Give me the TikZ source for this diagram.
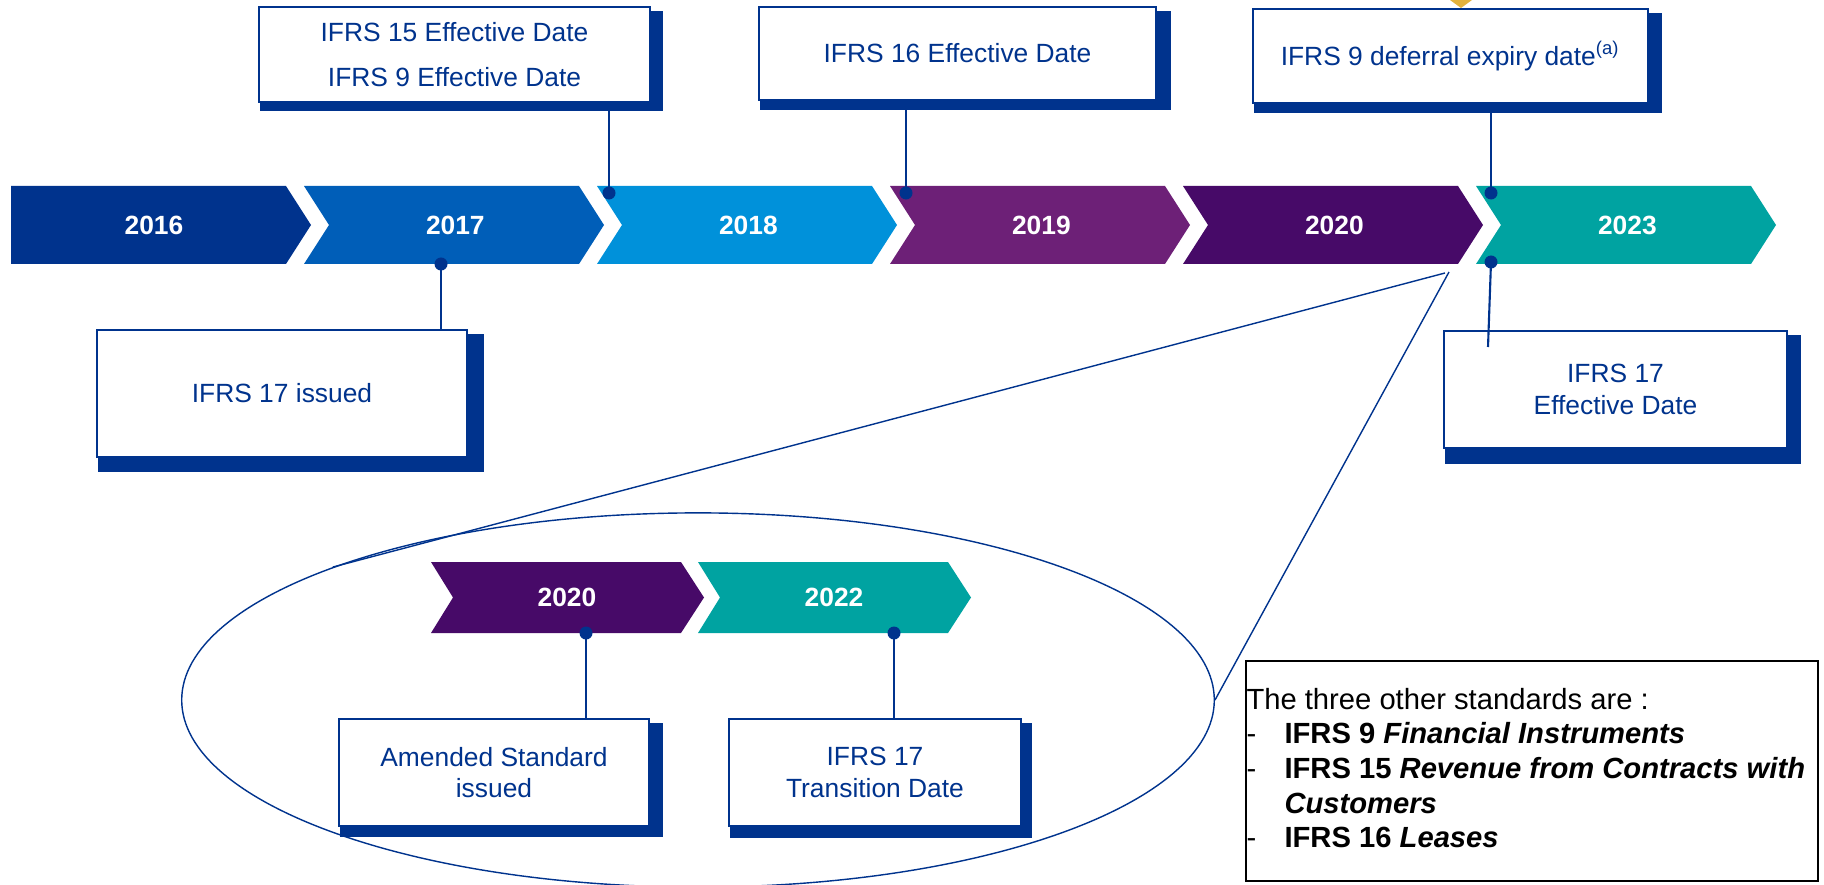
\documentclass[tikz,border=0pt]{standalone}
\usepackage{fontspec}
\setmainfont{Liberation Sans}
\usetikzlibrary{calc, shapes.geometric}
\pgfdeclarelayer{back}
\pgfsetlayers{back,main}

\definecolor{navy}{RGB}{0,51,141}
\definecolor{c16}{RGB}{0,51,141}
\definecolor{c17}{RGB}{0,94,184}
\definecolor{c18}{RGB}{0,145,218}
\definecolor{c19}{RGB}{109,32,119}
\definecolor{c20}{RGB}{71,10,104}
\definecolor{c23}{RGB}{0,163,161}
\definecolor{gold}{RGB}{227,178,60}

\tikzset{
  yearlbl/.style={text=white, font=\fontsize{7.5}{9}\selectfont\bfseries},
  infobox/.style={draw=navy, line width=0.4pt, fill=white, text=navy, align=center, font=\fontsize{7.5}{9}\selectfont, inner sep=0pt},
  dot/.style={circle, fill=navy, inner sep=0pt, minimum size=0.13cm},
  stem/.style={navy, line width=0.6pt},
  lensline/.style={navy, line width=0.4pt}
}

\begin{document}
\begin{tikzpicture}[x=0.01cm, y=-0.01cm]
\useasboundingbox (0,0) rectangle (1824,885);

\fill[gold] (1450,0) -- (1472,0) -- (1461,8) -- cycle;

\foreach \yr/\col [count=\i from 0] in {2016/c16,2017/c17,2018/c18,2019/c19,2020/c20,2023/c23}{
  \pgfmathsetmacro\L{11+293*\i}
  \pgfmathsetmacro\nd{\i==0 ? 0 : 25}
  \fill[\col] (\L,186) -- ++(275,0) -- ++(25,39) -- ++(-25,39) -- ++(-275,0) -- ++(\nd,-39) -- cycle;
  \node[yearlbl] (y\yr) at (\L+143+\nd/3,225) {\yr};
}

\foreach \yr/\col [count=\i from 0] in {2020/c20,2022/c23}{
  \pgfmathsetmacro\L{431+267*\i}
  \fill[\col] (\L,562) -- ++(250,0) -- ++(23,35.5) -- ++(-23,35.5) -- ++(-250,0) -- ++(22,-35.5) -- cycle;
  \node[yearlbl] (z\yr) at (\L+136,597.5) {\yr};
}

\node[infobox, minimum width=3.91cm, minimum height=0.95cm] (bA) at (454.5,54.5) {IFRS 15 Effective Date\\[0.14cm]IFRS 9 Effective Date};
\node[infobox, minimum width=3.97cm, minimum height=0.93cm] (bB) at (957.5,53.5) {IFRS 16 Effective Date};
\node[infobox, minimum width=3.95cm, minimum height=0.94cm] (bC) at (1450.5,56) {IFRS 9 deferral expiry date\textsuperscript{(a)}};
\node[infobox, minimum width=3.70cm, minimum height=1.27cm] (bD) at (282,393.5) {IFRS 17 issued};
\node[infobox, minimum width=3.43cm, minimum height=1.17cm] (bE) at (1615.5,389.5) {IFRS 17\\Effective Date};
\node[infobox, minimum width=3.10cm, minimum height=1.07cm] (bF) at (494,772.5) {Amended Standard\\issued};
\node[infobox, minimum width=2.92cm, minimum height=1.07cm] (bG) at (875,772.5) {IFRS 17\\Transition Date};

\node[draw=navy, line width=0.4pt, ellipse, minimum width=10.32cm, minimum height=3.74cm, inner sep=0pt] (lens) at (698,700) {};

\begin{pgfonlayer}{back}
\foreach \b/\dx/\dy in {bA/12/8,bB/14/9,bC/13/9,bD/16/14,bE/13/15,bF/13/10,bG/10/11}
  \fill[navy] ($(\b.north west)+(2,5)$) rectangle ($(\b.south east)+(\dx,\dy)$);
\end{pgfonlayer}

\node[dot] (dA) at (609,193) {};
\node[dot] (dB) at (906,193) {};
\node[dot] (dC) at (1491,193) {};
\node[dot] (dD) at (441,264) {};
\node[dot] (dE) at (1491,262) {};
\node[dot] (dF) at (586,633) {};
\node[dot] (dG) at (894,633) {};
\coordinate (eEnd) at (1488,347);

\draw[stem] (dA.center) -- (dA |- bA.south);
\draw[stem] (dB.center) -- (dB |- bB.south);
\draw[stem] (dC.center) -- (dC |- bC.south);
\draw[stem] (dD.center) -- (dD |- bD.north);
\draw[stem] (dE.center) -- (eEnd);
\draw[stem] (dF.center) -- (dF |- bF.north);
\draw[stem] (dG.center) -- (dG |- bG.north);

\coordinate (zoomA) at (1445,273);
\coordinate (zoomB) at (1449,272);
\draw[lensline] (zoomA) -- (lens.160);
\draw[lensline] (zoomB) -- (lens.east);

\node[draw=black, line width=0.6pt, minimum width=5.72cm, minimum height=2.19cm, inner sep=0pt] (others) at (1532,771) {};
\node[anchor=west, align=left, inner sep=0pt, font=\fontsize{8.3}{9.85}\selectfont] (otherstxt) at ($(others.west)+(1,-3)$) {The three other standards are :\\
\makebox[0.38cm][l]{-}\textbf{IFRS 9 \textit{Financial Instruments}}\\
\makebox[0.38cm][l]{-}\textbf{IFRS 15 \textit{Revenue from Contracts with}}\\
\hspace*{0.38cm}\textbf{\textit{Customers}}\\
\makebox[0.38cm][l]{-}\textbf{IFRS 16 \textit{Leases}}};
\end{tikzpicture}
\end{document}
